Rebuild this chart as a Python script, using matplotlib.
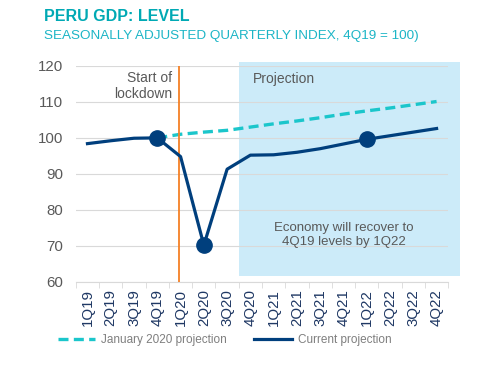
import numpy as np
import matplotlib.pyplot as plt
from matplotlib.patches import Rectangle

plt.rcParams['font.family'] = ['Liberation Sans', 'DejaVu Sans']

# Data
quarters = ['1Q19', '2Q19', '3Q19', '4Q19', '1Q20', '2Q20', '3Q20', '4Q20',
            '1Q21', '2Q21', '3Q21', '4Q21', '1Q22', '2Q22', '3Q22', '4Q22']
current = [98.4, 99.2, 99.9, 100.0, 94.8, 70.2, 91.3, 95.2,
           95.3, 96.0, 97.0, 98.3, 99.6, 100.6, 101.6, 102.6]
jan_quarters = ['4Q19', '1Q20', '2Q20', '3Q20', '4Q20', '1Q21', '2Q21', '3Q21',
                '4Q21', '1Q22', '2Q22', '3Q22', '4Q22']
jan_2020 = [100.0, 101.0, 101.6, 102.1, 103.0, 103.9, 104.7, 105.6,
            106.6, 107.5, 108.3, 109.2, 110.1]
marked = ['4Q19', '2Q20', '1Q22']
yticks = [60, 70, 80, 90, 100, 110, 120]

navy = '#003F7D'
teal = '#1BC6CB'
gray_txt = '#595959'

fig = plt.figure(figsize=(4.83, 3.68), dpi=100)
ax = fig.add_axes([0.157, 0.234, 0.771, 0.587])

x = np.arange(len(quarters))
idx = {q: i for i, q in enumerate(quarters)}
xj = [idx[q] for q in jan_quarters]
xm = [idx[q] for q in marked]
ym = [current[idx[q]] for q in marked]

# projection shading
ax.add_patch(Rectangle((6.5, 61.5), 9.5, 59.5, facecolor='#CCEBF9',
                       edgecolor='none', clip_on=False, zorder=0))

ax.set_xlim(-0.5, 15.5)
ax.set_ylim(60, 120)
ax.set_yticks(yticks)
ax.yaxis.grid(True, color='#D9D9D9', linewidth=0.8, zorder=1)
ax.set_axisbelow(True)

ax.plot(xj, jan_2020, color=teal, linewidth=2.4, linestyle=(0, (3, 1.6)),
        zorder=3, label='January 2020 projection')
ax.plot(x, current, color=navy, linewidth=2.3, zorder=4,
        label='Current projection')
ax.plot(xm, ym, 'o', color=navy, markersize=11, zorder=5)

# lockdown line
ax.axvline(3.95, color='#F58025', linewidth=1.3, zorder=3)
ax.text(3.65, 118.5, 'Start of\nlockdown', ha='right', va='top',
        fontsize=10, color=gray_txt, linespacing=1.15)
ax.text(7.1, 116.3, 'Projection', ha='left', va='center',
        fontsize=10, color=gray_txt)
ax.text(11.0, 73.0, 'Economy will recover to\n4Q19 levels by 1Q22',
        ha='center', va='center', fontsize=9.5, color=gray_txt,
        linespacing=1.3)

ax.set_xticks(x)
ax.set_xticklabels(quarters, rotation=90, fontsize=10.8, color='#1F3864')
ax.set_xticks(np.arange(-0.5, 16, 1), minor=True)
ax.tick_params(axis='x', which='major', length=0, pad=5)
ax.tick_params(axis='x', which='minor', length=4, color='#D9D9D9')
ax.tick_params(axis='y', length=0, labelsize=10.8, labelcolor=gray_txt, pad=9)
for s in ['top', 'right', 'left']:
    ax.spines[s].set_visible(False)
ax.spines['bottom'].set_color('#D9D9D9')

fig.text(0.091, 0.955, 'PERU GDP: LEVEL', fontsize=11.5, fontweight='bold',
         color='#00A9B4', va='center')
fig.text(0.091, 0.903, 'SEASONALLY ADJUSTED QUARTERLY INDEX, 4Q19 = 100)',
         fontsize=9.7, color='#1CB5C6', va='center')

h, l = ax.get_legend_handles_labels()
fig.legend(h, l, loc='center', bbox_to_anchor=(0.465, 0.075), ncol=2,
           frameon=False, fontsize=8.5, labelcolor='#7F7F7F',
           handlelength=3.2, columnspacing=2.3, handletextpad=0.5)

fig.savefig('out.png', dpi=100)
